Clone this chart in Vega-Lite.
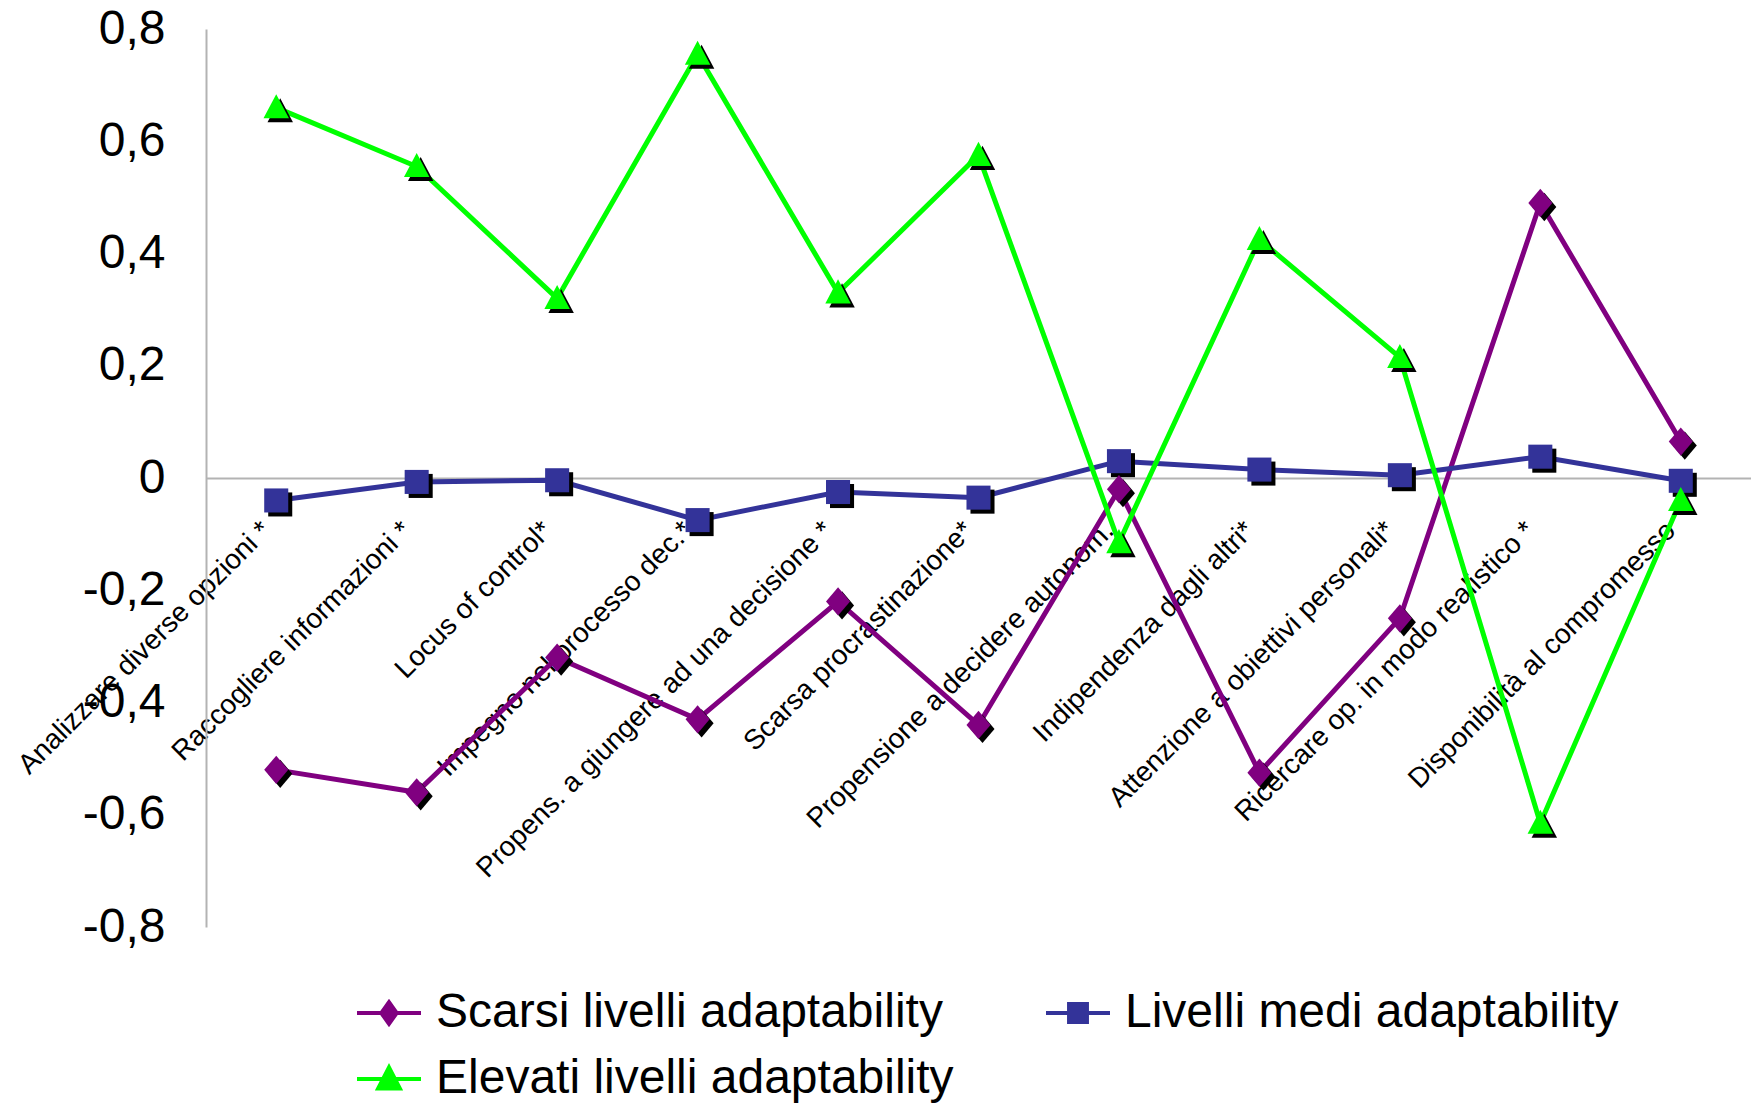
{
  "$schema": "https://vega.github.io/schema/vega-lite/v6.json",
  "autosize": {"type": "none"},
  "width": 1545,
  "height": 898,
  "padding": {"left": 206, "top": 29, "right": 0, "bottom": 179},
  "background": "white",
  "config": {"view": {"stroke": null}, "font": "Liberation Sans"},
  "data": {"values": [
    {"c": "Analizzare diverse opzioni *", "i": 1, "s": "Scarsi livelli adaptability", "v": -0.52},
    {"c": "Raccogliere informazioni *", "i": 2, "s": "Scarsi livelli adaptability", "v": -0.56},
    {"c": "Locus of control*", "i": 3, "s": "Scarsi livelli adaptability", "v": -0.32},
    {"c": "Impegno nel processo dec.*", "i": 4, "s": "Scarsi livelli adaptability", "v": -0.43},
    {"c": "Propens. a giungere ad una decisione *", "i": 5, "s": "Scarsi livelli adaptability", "v": -0.22},
    {"c": "Scarsa procrastinazione*", "i": 6, "s": "Scarsi livelli adaptability", "v": -0.44},
    {"c": "Propensione a decidere autonom.", "i": 7, "s": "Scarsi livelli adaptability", "v": -0.02},
    {"c": "Indipendenza dagli altri*", "i": 8, "s": "Scarsi livelli adaptability", "v": -0.525},
    {"c": "Attenzione a obiettivi personali*", "i": 9, "s": "Scarsi livelli adaptability", "v": -0.25},
    {"c": "Ricercare op. in modo realistico *", "i": 10, "s": "Scarsi livelli adaptability", "v": 0.49},
    {"c": "Disponibilità al compromesso", "i": 11, "s": "Scarsi livelli adaptability", "v": 0.065},
    {"c": "Analizzare diverse opzioni *", "i": 1, "s": "Livelli medi adaptability", "v": -0.04},
    {"c": "Raccogliere informazioni *", "i": 2, "s": "Livelli medi adaptability", "v": -0.007},
    {"c": "Locus of control*", "i": 3, "s": "Livelli medi adaptability", "v": -0.004},
    {"c": "Impegno nel processo dec.*", "i": 4, "s": "Livelli medi adaptability", "v": -0.075},
    {"c": "Propens. a giungere ad una decisione *", "i": 5, "s": "Livelli medi adaptability", "v": -0.025},
    {"c": "Scarsa procrastinazione*", "i": 6, "s": "Livelli medi adaptability", "v": -0.035},
    {"c": "Propensione a decidere autonom.", "i": 7, "s": "Livelli medi adaptability", "v": 0.03},
    {"c": "Indipendenza dagli altri*", "i": 8, "s": "Livelli medi adaptability", "v": 0.015},
    {"c": "Attenzione a obiettivi personali*", "i": 9, "s": "Livelli medi adaptability", "v": 0.005},
    {"c": "Ricercare op. in modo realistico *", "i": 10, "s": "Livelli medi adaptability", "v": 0.038},
    {"c": "Disponibilità al compromesso", "i": 11, "s": "Livelli medi adaptability", "v": -0.005},
    {"c": "Analizzare diverse opzioni *", "i": 1, "s": "Elevati livelli adaptability", "v": 0.66},
    {"c": "Raccogliere informazioni *", "i": 2, "s": "Elevati livelli adaptability", "v": 0.555},
    {"c": "Locus of control*", "i": 3, "s": "Elevati livelli adaptability", "v": 0.32},
    {"c": "Impegno nel processo dec.*", "i": 4, "s": "Elevati livelli adaptability", "v": 0.755},
    {"c": "Propens. a giungere ad una decisione *", "i": 5, "s": "Elevati livelli adaptability", "v": 0.33},
    {"c": "Scarsa procrastinazione*", "i": 6, "s": "Elevati livelli adaptability", "v": 0.575},
    {"c": "Propensione a decidere autonom.", "i": 7, "s": "Elevati livelli adaptability", "v": -0.115},
    {"c": "Indipendenza dagli altri*", "i": 8, "s": "Elevati livelli adaptability", "v": 0.425},
    {"c": "Attenzione a obiettivi personali*", "i": 9, "s": "Elevati livelli adaptability", "v": 0.215},
    {"c": "Ricercare op. in modo realistico *", "i": 10, "s": "Elevati livelli adaptability", "v": -0.615},
    {"c": "Disponibilità al compromesso", "i": 11, "s": "Elevati livelli adaptability", "v": -0.04}
  ]},
  "encoding": {
    "x": {
      "field": "c", "type": "nominal",
      "sort": ["Analizzare diverse opzioni *", "Raccogliere informazioni *", "Locus of control*", "Impegno nel processo dec.*", "Propens. a giungere ad una decisione *", "Scarsa procrastinazione*", "Propensione a decidere autonom.", "Indipendenza dagli altri*", "Attenzione a obiettivi personali*", "Ricercare op. in modo realistico *", "Disponibilità al compromesso"],
      "scale": {"type": "point", "padding": 0.5},
      "axis": {
        "title": null, "offset": -449, "domainColor": "#b3b3b3", "domainWidth": 2,
        "ticks": false, "labelAngle": -45, "labelAlign": "right", "labelBaseline": "bottom",
        "labelFontSize": 28, "labelFont": "Liberation Sans", "labelColor": "black",
        "labelPadding": 58, "labelLimit": 1000, "labelOverlap": false, "labelFlush": false
      }
    },
    "y": {
      "field": "v", "type": "quantitative",
      "scale": {"domain": [-0.8, 0.8], "nice": false, "zero": false},
      "axis": {
        "title": null, "values": [-0.8, -0.6, -0.4, -0.2, 0, 0.2, 0.4, 0.6, 0.8],
        "labelExpr": "datum.value == 0 ? '0' : (datum.value < 0 ? '-' : '') + replace(format(abs(datum.value), '.1f'), '.', ',')",
        "labelFontSize": 48, "labelFont": "Liberation Sans", "labelColor": "black",
        "labelPadding": 41, "ticks": false, "grid": false, "labelFlush": false, "labelOverlap": false,
        "domainColor": "#b3b3b3", "domainWidth": 2
      }
    }
  },
  "layer": [
    {
      "mark": {"type": "line", "strokeWidth": 5},
      "encoding": {
        "color": {"field": "s", "type": "nominal",
          "scale": {"domain": ["Scarsi livelli adaptability", "Livelli medi adaptability", "Elevati livelli adaptability"], "range": ["#800080", "#333399", "#00FF00"]},
          "legend": null},
        "order": {"field": "i", "type": "quantitative"}
      }
    },
    {
      "mark": {"type": "point", "filled": true, "color": "black", "opacity": 1, "size": 800, "strokeWidth": 0, "xOffset": 4, "yOffset": 4},
      "encoding": {
        "shape": {"field": "s", "type": "nominal",
          "scale": {"domain": ["Scarsi livelli adaptability", "Livelli medi adaptability", "Elevati livelli adaptability"],
            "range": ["M0,-1L0.85,0L0,1L-0.85,0Z", "M-0.85,-0.85H0.85V0.85H-0.85Z", "M0,-0.95L0.9,0.75L-0.9,0.75Z"]},
          "legend": null}
      }
    },
    {
      "mark": {"type": "point", "filled": true, "opacity": 1, "size": 800, "strokeWidth": 0},
      "encoding": {
        "color": {"field": "s", "type": "nominal",
          "scale": {"domain": ["Scarsi livelli adaptability", "Livelli medi adaptability", "Elevati livelli adaptability"], "range": ["#800080", "#333399", "#00FF00"]},
          "legend": null},
        "shape": {"field": "s", "type": "nominal",
          "scale": {"domain": ["Scarsi livelli adaptability", "Livelli medi adaptability", "Elevati livelli adaptability"],
            "range": ["M0,-1L0.85,0L0,1L-0.85,0Z", "M-0.85,-0.85H0.85V0.85H-0.85Z", "M0,-0.95L0.9,0.75L-0.9,0.75Z"]},
          "legend": null}
      }
    },
    {
      "transform": [{"filter": "false"}],
      "mark": {"type": "point", "filled": true, "opacity": 1, "strokeWidth": 4},
      "encoding": {
        "color": {"field": "s", "type": "nominal",
          "scale": {"domain": ["Scarsi livelli adaptability", "Livelli medi adaptability", "Elevati livelli adaptability"], "range": ["#800080", "#333399", "#00FF00"]},
          "legend": {"title": null, "orient": "none", "direction": "horizontal", "legendX": 149, "legendY": 950, "columns": 2, "columnPadding": 84, "rowPadding": 8, "labelFontSize": 48, "labelFont": "Liberation Sans", "labelColor": "black", "labelOffset": 13, "labelLimit": 1000, "symbolSize": 4096, "symbolStrokeWidth": 4, "symbolOpacity": 1}},
        "stroke": {"field": "s", "type": "nominal",
          "scale": {"domain": ["Scarsi livelli adaptability", "Livelli medi adaptability", "Elevati livelli adaptability"], "range": ["#800080", "#333399", "#00FF00"]},
          "legend": {"title": null, "orient": "none", "direction": "horizontal", "legendX": 149, "legendY": 950, "columns": 2, "columnPadding": 84, "rowPadding": 8, "labelFontSize": 48, "labelFont": "Liberation Sans", "labelColor": "black", "labelOffset": 13, "labelLimit": 1000, "symbolSize": 4096, "symbolStrokeWidth": 4, "symbolOpacity": 1}},
        "shape": {"field": "s", "type": "nominal",
          "scale": {"domain": ["Scarsi livelli adaptability", "Livelli medi adaptability", "Elevati livelli adaptability"],
            "range": ["M-1,0H1M0,-0.34L0.24,0L0,0.34L-0.24,0Z", "M-1,0H1M-0.28,-0.28H0.28V0.28H-0.28Z", "M-1,0H1M0,-0.36L0.34,0.3L-0.34,0.3Z"]},
          "legend": {"title": null, "orient": "none", "direction": "horizontal", "legendX": 149, "legendY": 950, "columns": 2, "columnPadding": 84, "rowPadding": 8, "labelFontSize": 48, "labelFont": "Liberation Sans", "labelColor": "black", "labelOffset": 13, "labelLimit": 1000, "symbolSize": 4096, "symbolStrokeWidth": 4, "symbolOpacity": 1}}
      }
    }
  ],
  "resolve": {"scale": {"color": "independent", "shape": "independent", "stroke": "independent"}}
}
